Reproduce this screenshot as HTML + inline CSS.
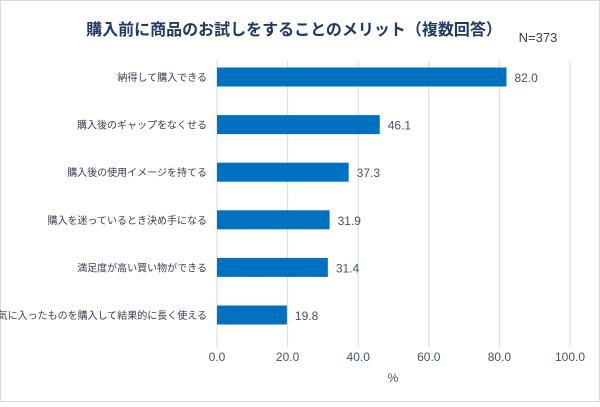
<!DOCTYPE html>
<html><head><meta charset="utf-8"><style>
body{margin:0;background:#fff;font-family:"Liberation Sans","Noto Sans CJK JP",sans-serif}
svg text{font-family:"Liberation Sans","Noto Sans CJK JP",sans-serif}
</style></head><body>
<svg id="c" width="600" height="402">
<rect x="0.5" y="0.5" width="599" height="401" fill="#fff" stroke="#d9d9d9"/>
<text x="294" y="35" text-anchor="middle" font-size="16" font-weight="bold" fill="#1f3864">購入前に商品のお試しをすることのメリット（複数回答）</text>
<text x="538" y="42" text-anchor="middle" font-size="13" fill="#333f50">N=373</text>
<g id="grid"></g><g id="bars"></g>
<text x="393" y="382" text-anchor="middle" font-size="12" fill="#44546a">%</text>
</svg>
<script>
const categories=["納得して購入できる","購入後のギャップをなくせる","購入後の使用イメージを持てる","購入を迷っているとき決め手になる","満足度が高い買い物ができる","気に入ったものを購入して結果的に長く使える"];
const values=[82.0,46.1,37.3,31.9,31.4,19.8];
const ticks=[0,20,40,60,80,100];
const tickLabels=["0.0","20.0","40.0","60.0","80.0","100.0"];
const NS="http://www.w3.org/2000/svg";
const x=v=>217+v*3.53;
const y0=77,step=47.6,bh=19;
const y=i=>y0+i*step;
function mk(t,a,p){const e=document.createElementNS(NS,t);for(const k in a)e.setAttribute(k,a[k]);p.appendChild(e);return e;}
const g=document.getElementById('grid'),b=document.getElementById('bars');
ticks.forEach((t,i)=>{
const l=mk('line',{x1:x(t),x2:x(t),y1:61,y2:347,stroke:'#d9d9d9','stroke-width':1},g);


const tx=mk('text',{x:x(t),y:361,'text-anchor':'middle','font-size':12,fill:'#44546a'},g);
tx.textContent=tickLabels[i];


});
categories.forEach((c,i)=>{
const r=mk('rect',{x:x(0),y:y(i)-bh/2,width:x(values[i])-x(0),height:bh,fill:'#0070c0'},b);


const v=mk('text',{x:x(values[i])+8,y:y(i)+5,'font-size':12,fill:'#44546a'},b);
v.textContent=values[i].toFixed(1);


const lb=mk('text',{x:207,y:y(i)+4,'text-anchor':'end','font-size':10,fill:'#333f50'},b);
lb.textContent=c;


});
</script>
</body></html>
